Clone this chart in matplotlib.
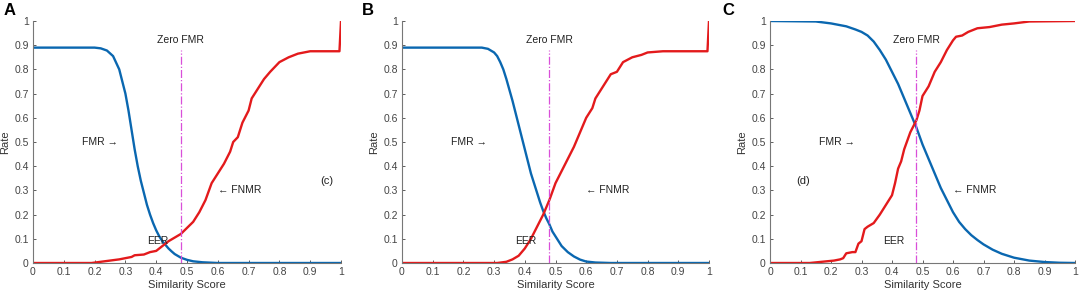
import matplotlib
matplotlib.use("Agg")
import matplotlib.pyplot as plt

plt.rcParams['font.family'] = ['Liberation Sans', 'DejaVu Sans']

# Panel A
a_fmr_x = [0, 0.2, 0.22, 0.24, 0.26, 0.28, 0.30, 0.31, 0.32, 0.33, 0.34, 0.35, 0.36, 0.37, 0.38, 0.39, 0.40, 0.41, 0.42, 0.43, 0.44, 0.45, 0.46, 0.48, 0.50, 0.52, 0.55, 0.6, 1.0]
a_fmr_y = [0.89, 0.89, 0.887, 0.878, 0.855, 0.80, 0.70, 0.63, 0.55, 0.47, 0.40, 0.34, 0.29, 0.24, 0.20, 0.165, 0.135, 0.11, 0.09, 0.075, 0.06, 0.048, 0.037, 0.022, 0.013, 0.007, 0.003, 0.0, 0.0]
a_fnmr_x = [0, 0.19, 0.22, 0.25, 0.28, 0.30, 0.32, 0.33, 0.36, 0.38, 0.40, 0.42, 0.44, 0.46, 0.48, 0.50, 0.52, 0.54, 0.56, 0.58, 0.60, 0.62, 0.64, 0.65, 0.665, 0.68, 0.70, 0.71, 0.73, 0.75, 0.77, 0.80, 0.83, 0.86, 0.90, 0.995, 1.0]
a_fnmr_y = [0, 0.0, 0.005, 0.01, 0.015, 0.02, 0.025, 0.032, 0.035, 0.045, 0.05, 0.07, 0.09, 0.105, 0.12, 0.145, 0.17, 0.21, 0.26, 0.33, 0.37, 0.41, 0.46, 0.50, 0.52, 0.58, 0.63, 0.68, 0.72, 0.76, 0.79, 0.83, 0.85, 0.865, 0.875, 0.875, 1.0]

# Panel B
b_fmr_x = [0, 0.26, 0.28, 0.30, 0.31, 0.32, 0.33, 0.34, 0.35, 0.36, 0.37, 0.38, 0.39, 0.40, 0.41, 0.42, 0.43, 0.44, 0.45, 0.46, 0.47, 0.48, 0.49, 0.50, 0.52, 0.54, 0.56, 0.58, 0.60, 0.63, 0.68, 1.0]
b_fmr_y = [0.89, 0.89, 0.885, 0.87, 0.855, 0.83, 0.80, 0.76, 0.715, 0.67, 0.62, 0.57, 0.52, 0.47, 0.42, 0.37, 0.33, 0.29, 0.25, 0.215, 0.185, 0.16, 0.13, 0.11, 0.07, 0.045, 0.027, 0.014, 0.006, 0.002, 0.0, 0.0]
b_fnmr_x = [0, 0.31, 0.34, 0.36, 0.38, 0.40, 0.42, 0.44, 0.46, 0.48, 0.50, 0.52, 0.54, 0.56, 0.58, 0.60, 0.62, 0.63, 0.65, 0.67, 0.68, 0.70, 0.72, 0.75, 0.78, 0.80, 0.85, 0.995, 1.0]
b_fnmr_y = [0, 0.0, 0.005, 0.015, 0.03, 0.06, 0.1, 0.15, 0.2, 0.26, 0.33, 0.38, 0.43, 0.48, 0.54, 0.60, 0.64, 0.68, 0.72, 0.76, 0.78, 0.79, 0.83, 0.85, 0.86, 0.87, 0.875, 0.875, 1.0]

# Panel C
c_fmr_x = [0, 0.15, 0.20, 0.25, 0.28, 0.30, 0.32, 0.34, 0.36, 0.38, 0.40, 0.42, 0.44, 0.46, 0.48, 0.50, 0.52, 0.54, 0.56, 0.58, 0.60, 0.62, 0.64, 0.66, 0.68, 0.70, 0.73, 0.76, 0.80, 0.85, 0.90, 0.95, 1.0]
c_fmr_y = [1.0, 0.998, 0.99, 0.978, 0.965, 0.955, 0.94, 0.915, 0.88, 0.84, 0.79, 0.74, 0.68, 0.62, 0.56, 0.49, 0.43, 0.37, 0.31, 0.26, 0.21, 0.17, 0.14, 0.115, 0.095, 0.077, 0.055, 0.038, 0.022, 0.01, 0.004, 0.001, 0.0]
c_fnmr_x = [0, 0.13, 0.17, 0.21, 0.23, 0.24, 0.25, 0.27, 0.28, 0.29, 0.30, 0.31, 0.32, 0.34, 0.36, 0.38, 0.40, 0.41, 0.42, 0.43, 0.44, 0.46, 0.48, 0.49, 0.50, 0.52, 0.54, 0.56, 0.58, 0.60, 0.61, 0.63, 0.65, 0.68, 0.72, 0.76, 0.80, 0.85, 1.0]
c_fnmr_y = [0, 0.0, 0.005, 0.01, 0.015, 0.02, 0.04, 0.045, 0.045, 0.08, 0.09, 0.14, 0.15, 0.165, 0.2, 0.24, 0.28, 0.33, 0.39, 0.42, 0.47, 0.54, 0.59, 0.63, 0.69, 0.73, 0.79, 0.83, 0.88, 0.92, 0.935, 0.94, 0.955, 0.97, 0.975, 0.985, 0.99, 0.998, 1.0]

panels = [
    ("A", a_fmr_x, a_fmr_y, a_fnmr_x, a_fnmr_y, ("(c)", 0.955, 0.34)),
    ("B", b_fmr_x, b_fmr_y, b_fnmr_x, b_fnmr_y, None),
    ("C", c_fmr_x, c_fmr_y, c_fnmr_x, c_fnmr_y, ("(d)", 0.11, 0.34)),
]
zero_fmr = 0.48
ticks = [0, 0.1, 0.2, 0.3, 0.4, 0.5, 0.6, 0.7, 0.8, 0.9, 1]
tick_labels = ["0", "0.1", "0.2", "0.3", "0.4", "0.5", "0.6", "0.7", "0.8", "0.9", "1"]

fig = plt.figure(figsize=(10.84, 2.98), dpi=100)
lefts = [33 / 1084, 402 / 1084, 770 / 1084]
widths = [308 / 1084, 307 / 1084, 305 / 1084]
letter_x = [4 / 1084, 362 / 1084, 722 / 1084]
bottom = 1 - 263 / 298
height = (263 - 21) / 298
fs = 7.5
for i, (letter, fx, fy, nx, ny, extra) in enumerate(panels):
    ax = fig.add_axes([lefts[i], bottom, widths[i], height])
    ax.plot(fx, fy, color='#0a67b0', lw=1.7)
    ax.plot(nx, ny, color='#e31a1c', lw=1.7)
    ax.plot([zero_fmr, zero_fmr], [0, 0.88], color='#d94fd9', lw=0.9, ls='-.')
    ax.text(zero_fmr, 0.92, "Zero FMR", ha='center', va='center', fontsize=fs, color='#222222')
    ax.text(0.16, 0.5, "FMR \u2192", ha='left', va='center', fontsize=fs, color='#222222')
    ax.text(0.6, 0.3, "\u2190 FNMR", ha='left', va='center', fontsize=fs, color='#222222')
    ax.text(0.37, 0.09, "EER", ha='left', va='center', fontsize=fs, color='#222222')
    if extra is not None:
        ax.text(extra[1], extra[2], extra[0], ha='center', va='center', fontsize=fs + 0.5, color='#222222')
    ax.set_xlim(0, 1)
    ax.set_ylim(0, 1)
    ax.set_xticks(ticks)
    ax.set_xticklabels(tick_labels)
    ax.set_yticks(ticks)
    ax.set_yticklabels(tick_labels)
    ax.tick_params(direction='in', length=2.5, width=0.6, labelsize=fs, colors='#444444', pad=3)
    for s in ['top', 'right']:
        ax.spines[s].set_visible(False)
    for s in ['left', 'bottom']:
        ax.spines[s].set_color('#777777')
        ax.spines[s].set_linewidth(0.8)
    ax.set_xlabel("Similarity Score", fontsize=fs + 0.5, color='#333333', labelpad=2)
    ax.set_ylabel("Rate", fontsize=fs + 0.5, color='#333333', labelpad=3)
    fig.text(letter_x[i], 0.965, letter, fontsize=12, fontweight='bold', ha='left', va='center')

fig.savefig("out.png", dpi=100)
